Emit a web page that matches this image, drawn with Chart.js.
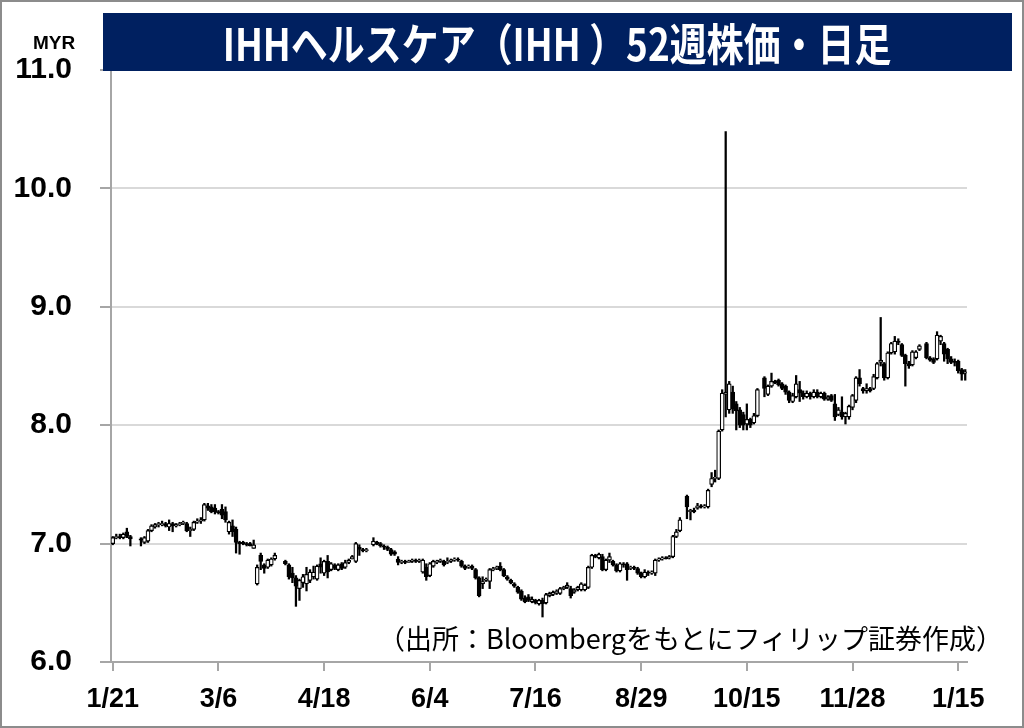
<!DOCTYPE html>
<html>
<head>
<meta charset="utf-8">
<script src="https://cdn.jsdelivr.net/npm/chart.js@4.4.1/dist/chart.umd.min.js"></script>
<style>
  html, body { margin: 0; padding: 0; background: #fff; }
  #wrap { position: relative; width: 1024px; height: 728px; overflow: hidden; }
  #chart { position: absolute; left: 0; top: 0; }
  #frame { position: absolute; left: 0; top: 0; width: 1024px; height: 728px; box-sizing: border-box;
           border: 2px solid #8c8c8c; pointer-events: none; }
  #title { position: absolute; left: 103px; top: 13px; width: 909px; height: 58px; background: #002060;
           display: flex; align-items: center; justify-content: center; }
  #title span { color: #fff; font-family: "Noto Sans CJK JP"; font-weight: bold; font-size: 44px; line-height: 1;
                white-space: nowrap; display: inline-block; transform: scaleX(0.84); }
  #unit { position: absolute; left: 33px; top: 32px; line-height: 1;
          font: bold 19px "Liberation Sans Narrow", "Liberation Sans", sans-serif; }
  #source { position: absolute; right: 21px; top: 624px; line-height: 1; white-space: nowrap;
            font-family: "Noto Sans CJK JP"; font-size: 27px; color: #000; }
</style>
</head>
<body>
<div id="wrap">
  <canvas id="chart" width="1024" height="728"></canvas>
  <div id="title"><span>IHHヘルスケア（IHH ）52週株価・日足</span></div>
  <div id="unit">MYR</div>
  <div id="source">（出所：Bloombergをもとにフィリップ証券作成）</div>
  <div id="frame"></div>
</div>
<script>
// --- DATA (daily candles, null = market holiday) ---

const tickLabels = ['1/21', '3/6', '4/18', '6/4', '7/16', '8/29', '10/15', '11/28', '1/15'];
const tickStep = 30;   // one label every 30 trading days
const yMin = 6, yMax = 11, yStep = 1;

const opens = [
  7.00, 7.05, 7.06, 7.05, 7.10, 7.06, null, null, 7.04, 7.01,
  7.02, 7.11, 7.14, 7.16, 7.16, 7.17, 7.14, 7.17, 7.15, 7.16,
  7.17, 7.17, 7.11, 7.12, 7.18, 7.19, 7.20, 7.32, 7.31, 7.30,
  7.27, 7.29, 7.27, 7.10, 7.15, 7.12, 7.01, 7.01, 7.00, 7.00,
  6.96, 6.66, 6.90, 6.82, 6.80, 6.82, 6.87, null, null, 6.85,
  6.82, 6.75, 6.71, 6.62, 6.67, 6.66, 6.69, 6.72, 6.70, 6.83,
  6.75, 6.85, 6.78, 6.82, 6.78, 6.83, 6.80, 6.84, 6.87, 6.85,
  6.97, 6.95, 6.94, null, 6.99, 7.01, 7.00, 6.98, 6.97, 6.95,
  6.93, 6.87, 6.84, 6.85, 6.84, 6.85, 6.86, 6.85, 6.76, 6.80,
  6.73, 6.81, 6.84, 6.85, 6.85, 6.84, 6.85, 6.86, 6.87, 6.85,
  6.81, 6.80, 6.81, 6.78, 6.71, 6.66, 6.69, 6.68, 6.78, 6.79,
  6.81, 6.78, 6.72, 6.69, 6.66, 6.63, 6.60, 6.54, 6.55, 6.51,
  6.52, 6.49, 6.52, 6.50, 6.56, 6.57, 6.58, 6.58, 6.62, 6.63,
  6.62, 6.59, 6.61, 6.61, 6.61, 6.63, 6.80, 6.90, 6.88, 6.89,
  6.78, 6.86, 6.85, 6.82, 6.77, 6.83, 6.83, 6.79, 6.80, 6.79,
  6.75, 6.72, 6.76, 6.75, 6.75, 6.86, 6.87, 6.88, 6.88, 6.89,
  7.06, 7.11, null, 7.40, 7.27, 7.28, 7.30, 7.32, 7.31, 7.31,
  7.50, 7.55, 7.55, 7.96, 8.26, 8.13, 8.28, 8.18, 8.13, 8.09,
  8.01, 8.05, 8.02, 8.08, null, 8.40, 8.26, 8.33, 8.37, 8.38,
  8.35, 8.33, 8.28, 8.20, 8.24, 8.30, 8.27, 8.24, 8.27, 8.24,
  8.28, 8.24, 8.27, 8.22, 8.25, 8.18, 8.09, 8.11, 8.07, 8.07,
  8.15, 8.21, 8.40, 8.31, 8.29, 8.31, 8.31, 8.40, 8.53, 8.52,
  8.40, 8.61, 8.62, 8.71, 8.68, 8.59, 8.52, 8.51, 8.57, 8.64,
  null, 8.69, 8.57, 8.56, 8.56, 8.71, 8.69, 8.64, 8.56, 8.54,
  8.54, 8.47, 8.44
];

const highs = [
  7.06, 7.08, 7.08, 7.09, 7.13, 7.07, null, null, 7.05, 7.06,
  7.12, 7.16, 7.17, 7.18, 7.19, 7.18, 7.20, 7.18, 7.17, 7.18,
  7.19, 7.18, 7.14, 7.19, 7.21, 7.22, 7.34, 7.34, 7.33, 7.33,
  7.28, 7.33, 7.31, 7.19, 7.20, 7.14, 7.02, 7.02, 7.01, 7.01,
  7.03, 6.82, 6.92, 6.83, 6.87, 6.88, 6.92, null, null, 6.86,
  6.83, 6.80, 6.73, 6.70, 6.74, 6.80, 6.78, 6.81, 6.82, 6.88,
  6.86, 6.90, 6.84, 6.83, 6.83, 6.84, 6.86, 6.87, 6.90, 7.01,
  6.99, 6.96, 6.96, null, 7.05, 7.02, 7.01, 6.99, 6.98, 6.96,
  6.94, 6.89, 6.86, 6.86, 6.86, 6.87, 6.87, 6.87, 6.87, 6.83,
  6.84, 6.86, 6.86, 6.87, 6.86, 6.88, 6.87, 6.88, 6.88, 6.86,
  6.82, 6.82, 6.82, 6.79, 6.72, 6.72, 6.71, 6.79, 6.80, 6.81,
  6.84, 6.79, 6.73, 6.70, 6.67, 6.64, 6.61, 6.56, 6.57, 6.55,
  6.53, 6.53, 6.54, 6.58, 6.59, 6.60, 6.61, 6.63, 6.64, 6.67,
  6.64, 6.62, 6.64, 6.67, 6.66, 6.81, 6.91, 6.91, 6.92, 6.91,
  6.87, 6.92, 6.86, 6.83, 6.84, 6.84, 6.84, 6.81, 6.81, 6.80,
  6.76, 6.78, 6.77, 6.77, 6.87, 6.88, 6.89, 6.89, 6.90, 7.07,
  7.12, 7.22, null, 7.41, 7.29, 7.30, 7.34, 7.33, 7.33, 7.46,
  7.60, 7.62, 7.96, 8.30, 10.48, 8.37, 8.33, 8.20, 8.15, 8.11,
  8.18, 8.06, 8.10, 8.31, null, 8.41, 8.34, 8.44, 8.38, 8.39,
  8.36, 8.34, 8.29, 8.27, 8.42, 8.37, 8.29, 8.29, 8.28, 8.30,
  8.30, 8.28, 8.28, 8.25, 8.26, 8.26, 8.15, 8.24, 8.11, 8.17,
  8.26, 8.41, 8.47, 8.32, 8.35, 8.32, 8.43, 8.53, 8.91, 8.53,
  8.62, 8.70, 8.75, 8.73, 8.69, 8.60, 8.54, 8.63, 8.63, 8.68,
  null, 8.70, 8.58, 8.57, 8.79, 8.76, 8.70, 8.65, 8.58, 8.56,
  8.55, 8.48, 8.47
];

const lows = [
  6.99, 7.04, 7.04, 7.04, 7.05, 6.98, null, null, 6.98, 7.00,
  7.01, 7.10, 7.13, 7.14, 7.15, 7.14, 7.11, 7.10, 7.14, 7.15,
  7.16, 7.10, 7.06, 7.11, 7.17, 7.17, 7.19, 7.28, 7.26, 7.25,
  7.25, 7.21, 7.18, 7.08, 7.06, 6.92, 6.91, 6.99, 6.98, 6.98,
  6.96, 6.65, 6.78, 6.75, 6.79, 6.81, 6.86, null, null, 6.82,
  6.70, 6.67, 6.47, 6.52, 6.63, 6.60, 6.67, 6.70, 6.69, 6.75,
  6.73, 6.71, 6.77, 6.78, 6.77, 6.78, 6.79, 6.83, 6.87, 6.84,
  6.90, 6.93, 6.93, null, 6.98, 6.99, 6.97, 6.95, 6.94, 6.90,
  6.90, 6.82, 6.83, 6.83, 6.84, 6.84, 6.84, 6.84, 6.75, 6.69,
  6.72, 6.80, 6.83, 6.84, 6.81, 6.83, 6.84, 6.85, 6.85, 6.80,
  6.78, 6.79, 6.78, 6.70, 6.55, 6.62, 6.68, 6.62, 6.77, 6.78,
  6.77, 6.72, 6.69, 6.66, 6.63, 6.58, 6.52, 6.50, 6.51, 6.50,
  6.49, 6.48, 6.38, 6.49, 6.55, 6.56, 6.57, 6.57, 6.61, 6.62,
  6.54, 6.58, 6.60, 6.60, 6.60, 6.62, 6.79, 6.88, 6.87, 6.77,
  6.77, 6.84, 6.81, 6.76, 6.76, 6.80, 6.69, 6.78, 6.78, 6.74,
  6.71, 6.71, 6.73, 6.74, 6.73, 6.85, 6.86, 6.87, 6.87, 6.88,
  7.05, 7.10, null, 7.21, 7.20, 7.26, 7.29, 7.30, 7.30, 7.30,
  7.48, 7.52, 7.54, 7.95, 8.07, 8.10, 8.10, 7.96, 7.98, 7.96,
  7.96, 7.98, 8.01, 8.07, null, 8.24, 8.25, 8.32, 8.35, 8.33,
  8.30, 8.26, 8.19, 8.19, 8.23, 8.20, 8.22, 8.23, 8.22, 8.23,
  8.23, 8.23, 8.21, 8.21, 8.20, 8.04, 8.08, 8.05, 8.01, 8.05,
  8.13, 8.19, 8.33, 8.27, 8.27, 8.28, 8.30, 8.39, 8.50, 8.38,
  8.39, 8.60, 8.60, 8.68, 8.58, 8.33, 8.48, 8.50, 8.56, 8.63,
  null, 8.56, 8.54, 8.52, 8.55, 8.68, 8.54, 8.52, 8.52, 8.50,
  8.44, 8.38, 8.38
];

const closes = [
  7.05, 7.06, 7.05, 7.08, 7.06, 7.04, null, null, 7.03, 7.05,
  7.11, 7.15, 7.16, 7.17, 7.17, 7.15, 7.17, 7.15, 7.16, 7.17,
  7.18, 7.11, 7.12, 7.18, 7.19, 7.20, 7.33, 7.30, 7.27, 7.27,
  7.26, 7.24, 7.20, 7.18, 7.10, 7.01, 7.00, 7.00, 6.99, 6.98,
  6.99, 6.80, 6.85, 6.79, 6.86, 6.87, 6.90, null, null, 6.83,
  6.72, 6.71, 6.64, 6.69, 6.72, 6.74, 6.76, 6.76, 6.81, 6.80,
  6.85, 6.76, 6.83, 6.79, 6.82, 6.79, 6.84, 6.86, 6.89, 7.00,
  6.95, 6.94, 6.95, null, 7.02, 7.00, 6.98, 6.97, 6.95, 6.91,
  6.91, 6.84, 6.85, 6.84, 6.85, 6.86, 6.85, 6.86, 6.86, 6.72,
  6.83, 6.85, 6.85, 6.86, 6.82, 6.85, 6.86, 6.87, 6.86, 6.81,
  6.79, 6.81, 6.79, 6.71, 6.56, 6.68, 6.70, 6.78, 6.79, 6.80,
  6.78, 6.73, 6.70, 6.67, 6.64, 6.59, 6.53, 6.51, 6.52, 6.53,
  6.50, 6.52, 6.49, 6.57, 6.58, 6.59, 6.60, 6.62, 6.63, 6.65,
  6.56, 6.61, 6.63, 6.66, 6.65, 6.80, 6.90, 6.89, 6.91, 6.78,
  6.86, 6.89, 6.82, 6.77, 6.83, 6.82, 6.78, 6.80, 6.79, 6.75,
  6.72, 6.76, 6.75, 6.76, 6.86, 6.87, 6.88, 6.87, 6.89, 7.06,
  7.10, 7.20, null, 7.31, 7.28, 7.27, 7.32, 7.31, 7.32, 7.45,
  7.55, 7.56, 7.95, 8.27, 8.28, 8.35, 8.14, 8.12, 8.00, 8.00,
  8.05, 8.00, 8.08, 8.30, null, 8.31, 8.33, 8.37, 8.36, 8.34,
  8.31, 8.28, 8.21, 8.25, 8.35, 8.27, 8.24, 8.27, 8.24, 8.28,
  8.24, 8.27, 8.22, 8.24, 8.21, 8.07, 8.13, 8.07, 8.10, 8.16,
  8.25, 8.40, 8.35, 8.29, 8.31, 8.29, 8.41, 8.52, 8.55, 8.40,
  8.61, 8.69, 8.71, 8.70, 8.59, 8.52, 8.50, 8.62, 8.62, 8.67,
  null, 8.57, 8.55, 8.53, 8.76, 8.75, 8.60, 8.56, 8.53, 8.53,
  8.46, 8.43, 8.45
];

// --- CHART ---

const bodies = [];
const wicks = [];
for (let i = 0; i < opens.length; i++) {
    if (opens[i] === null) continue;   // holiday: no candle
    bodies.push({ x: i, y: [opens[i], closes[i]] });
    wicks.push({ x: i, y: [lows[i], highs[i]] });
}

const axisGrey = '#a6a6a6';
const labelFont = { family: '"Liberation Sans Narrow", "Liberation Sans", sans-serif', weight: 'bold', size: 27 };

new Chart(document.getElementById('chart').getContext('2d'), {
    type: 'bar',
    data: {
        datasets: [
            {
                label: 'body',
                data: bodies,
                order: 0,
                grouped: false,
                barThickness: 4,
                borderWidth: 1.2,
                borderSkipped: false,
                borderColor: '#000',
                backgroundColor: (c) => (c.raw && c.raw.y[1] >= c.raw.y[0]) ? '#fff' : '#000'
            },
            {
                label: 'wick',
                data: wicks,
                order: 1,
                grouped: false,
                barThickness: 1.6,
                borderWidth: 0,
                backgroundColor: '#000'
            }
        ]
    },
    options: {
        responsive: false,
        animation: false,
        events: [],
        layout: { padding: { top: 70, right: 57, left: 0, bottom: 0 } },
        plugins: { legend: { display: false }, tooltip: { enabled: false } },
        scales: {
            x: {
                type: 'linear',
                offset: false,
                min: -0.5,
                max: opens.length - 0.5,
                afterBuildTicks: (s) => { s.ticks = tickLabels.map((_, k) => ({ value: k * tickStep })); },
                afterFit: (s) => { s.height = 66; },
                ticks: {
                    autoSkip: false,
                    maxRotation: 0,
                    padding: 12,
                    color: '#000',
                    font: labelFont,
                    callback: (v) => tickLabels[Math.round(v / tickStep)]
                },
                grid: { offset: false, drawOnChartArea: false, drawTicks: true, tickLength: 9, color: axisGrey, lineWidth: 2 },
                border: { color: axisGrey, width: 2 }
            },
            y: {
                min: yMin,
                max: yMax,
                afterFit: (s) => { s.width = 111; },
                ticks: {
                    stepSize: yStep,
                    padding: 28,
                    color: '#000',
                    font: { family: '"Liberation Sans", sans-serif', weight: 'bold', size: 30 },
                    callback: (v) => v.toFixed(1)
                },
                grid: { color: '#d9d9d9', lineWidth: 2, tickColor: axisGrey, tickLength: 11 },
                border: { color: axisGrey, width: 2 }
            }
        }
    }
});
</script>
</body>
</html>
